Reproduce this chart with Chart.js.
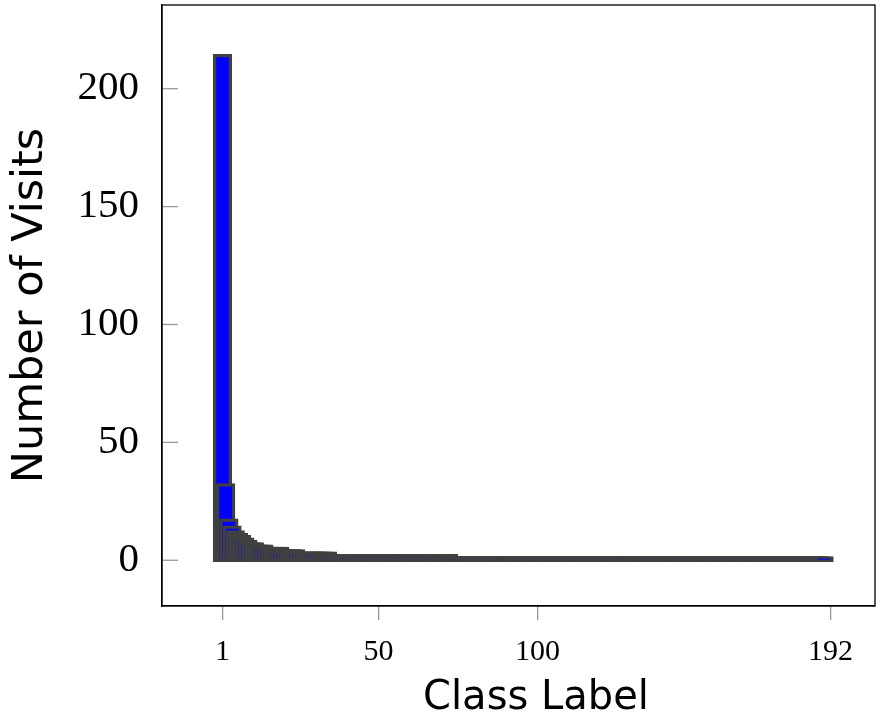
<!DOCTYPE html>
<html>
<head>
<meta charset="utf-8">
<script src="https://cdn.jsdelivr.net/npm/chart.js@4.4.0/dist/chart.umd.min.js"></script>
<style>
  body { margin: 0; background: #fff; }
  #wrap { width: 876px; height: 715px; }
</style>
</head>
<body>
<div id="wrap"><canvas id="visitChart" width="876" height="715"></canvas></div>
<script>
// visits per class label, classes 1 .. 190
let visits = [
  214, 32, 17, 14, 12, 11, 10, 9, 8, 7, 7, 6, 6, 6, 5, 5, 5, 5, 5, 4,
  4, 4, 4, 4, 3, 3, 3, 3, 3, 3, 3, 3, 3, 3, 2, 2, 2, 2, 2, 2,
  2, 2, 2, 2, 2, 2, 2, 2, 2, 2, 2, 2, 2, 2, 2, 2, 2, 2, 2, 2,
  2, 2, 2, 2, 2, 2, 2, 2, 2, 2, 2, 2, 1, 1, 1, 1, 1, 1, 1, 1,
  1, 1, 1, 1, 1, 1, 1, 1, 1, 1, 1, 1, 1, 1, 1, 1, 1, 1, 1, 1,
  1, 1, 1, 1, 1, 1, 1, 1, 1, 1, 1, 1, 1, 1, 1, 1, 1, 1, 1, 1,
  1, 1, 1, 1, 1, 1, 1, 1, 1, 1, 1, 1, 1, 1, 1, 1, 1, 1, 1, 1,
  1, 1, 1, 1, 1, 1, 1, 1, 1, 1, 1, 1, 1, 1, 1, 1, 1, 1, 1, 1,
  1, 1, 1, 1, 1, 1, 1, 1, 1, 1, 1, 1, 1, 1, 1, 1, 1, 1, 1, 1,
  1, 1, 1, 1, 1, 1, 1, 1, 1, 1
];
let xTickVals = [1, 50, 100, 192];
let yTickVals = [0, 50, 100, 150, 200];
let xTitle = "Class Label";
let yTitle = "Number of Visits";

// outline in the original is centred on the bar edge, so it sticks out
// about half a line width (in y units) above the top and below zero
let strokePad = 0.55;

let barData = [];
for (let i = 0; i < visits.length; i++) {
  barData.push({ x: i + 1, y: [-strokePad, visits[i] + strokePad] });
}

let frameAndTicks = {
  id: "frameAndTicks",
  afterDatasetsDraw(chart) {
    let ctx = chart.ctx;
    let a = chart.chartArea;
    let yScale = chart.scales.y;
    ctx.save();
    // y ticks point inside the box
    ctx.strokeStyle = "#999";
    ctx.lineWidth = 1.3;
    yScale.ticks.forEach((t) => {
      let py = yScale.getPixelForValue(t.value);
      ctx.beginPath();
      ctx.moveTo(a.left, py);
      ctx.lineTo(a.left + 16, py);
      ctx.stroke();
    });
    ctx.strokeStyle = "#000";
    ctx.strokeRect(a.left, a.top, a.right - a.left, a.bottom - a.top);
    // x label sits a bit right of the box centre in the original
    ctx.fillStyle = "#000";
    ctx.font = "40px 'DejaVu Sans'";
    ctx.textAlign = "center";
    ctx.textBaseline = "alphabetic";
    ctx.fillText(xTitle, 536, 709);
    ctx.restore();
  }
};

let ctxEl = document.getElementById("visitChart");
let visitChart = new Chart(ctxEl, {
  type: "bar",
  data: {
    datasets: [
      {
        label: yTitle,
        data: barData,
        backgroundColor: "#0000ff",
        borderColor: "#404040",
        borderWidth: 3.25,
        borderSkipped: false,
        barThickness: 18.6,
      },
    ],
  },
  options: {
    responsive: false,
    animation: false,
    events: [],
    layout: { padding: { top: 5, right: 1, left: 0, bottom: 0 } },
    plugins: {
      legend: { display: false },
      tooltip: { enabled: false },
    },
    scales: {
      x: {
        type: "linear",
        min: -18,
        max: 206,
        offset: false,
        afterBuildTicks: (scale) => {
          scale.ticks = xTickVals.map((v) => ({ value: v }));
        },
        afterFit: (scale) => {
          scale.height = 109;
          scale.paddingLeft = 0;
          scale.paddingRight = 0;
        },
        grid: {
          display: true,
          offset: false,
          drawOnChartArea: false,
          drawTicks: true,
          tickLength: 14,
          color: "#999",
          lineWidth: 1.3,
        },
        border: { display: true, color: "#000", width: 1.3 },
        ticks: {
          autoSkip: false,
          maxRotation: 0,
          padding: 14,
          color: "#000",
          font: { family: "'Liberation Serif'", size: 30 },
        },
      },
      y: {
        min: -19.4,
        max: 235.5,
        afterBuildTicks: (scale) => {
          scale.ticks = yTickVals.map((v) => ({ value: v }));
        },
        afterFit: (scale) => {
          scale.width = 162;
          scale.paddingTop = 0;
          scale.paddingBottom = 0;
        },
        grid: { display: false },
        border: { display: true, color: "#000", width: 1.3 },
        ticks: {
          padding: 15,
          color: "#000",
          font: { family: "'Liberation Serif'", size: 41 },
        },
        title: {
          display: true,
          text: yTitle,
          color: "#000",
          padding: { top: 5, bottom: 0 },
          font: { family: "'DejaVu Sans'", size: 43 },
        },
      },
    },
  },
  plugins: [frameAndTicks],
});
</script>
</body>
</html>
